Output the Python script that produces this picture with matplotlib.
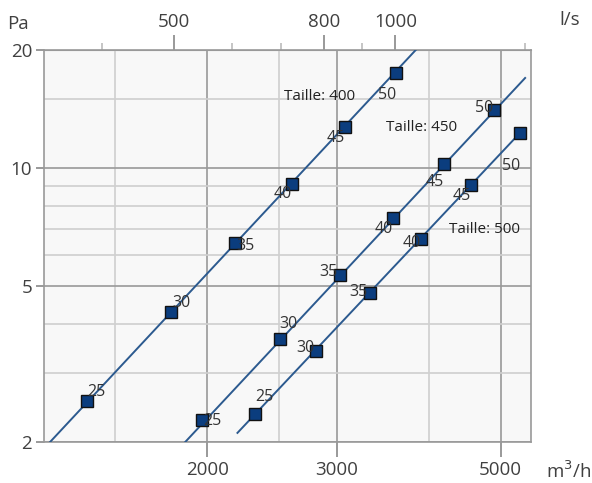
import numpy as np
from matplotlib import pyplot as plt

plt.rcParams['font.family'] = ['Open Sans', 'DejaVu Sans']

# data (m3/h, Pa)
sizes = ["400", "450", "500"]
speeds = ["25", "30", "35", "40", "45", "50"]
q400 = [1374, 1786, 2183, 2602, 3072, 3604]
p400 = [2.55, 4.29, 6.44, 9.1, 12.7, 17.5]
q450 = [1969, 2506, 3024, 3570, 4190, 4898]
p450 = [2.27, 3.66, 5.33, 7.46, 10.24, 14.06]
q500 = [2324, 2805, 3322, 3898, 4556, 5312]
p500 = [2.36, 3.41, 4.80, 6.59, 9.05, 12.28]
# curve end points
cq400 = [1223, 3836]
cp400 = [2.0, 20.0]
cq450 = [1866, 5400]
cp450 = [2.0, 16.97]
cq500 = [2197, 5312]
cp500 = [2.11, 12.28]

xticks = [2000, 3000, 5000]
xminor = [1500, 2500, 4000]
yticks = [2, 5, 10, 20]
yminor = [3, 4, 6, 7, 8, 9, 15]
top_major = [500, 800, 1000]
top_minor = [400, 600, 700, 900, 1500]

# label offsets in pixels
offs = [
    [(9, 9), (10, 9), (10, -3), (-9, -10), (-9, -11), (-9, -22)],
    [(10, -1), (9, 15), (-11, 3), (-9, -11), (-9, -18), (-10, 2)],
    [(9, 17), (-10, 3), (-11, 1), (-9, -4), (-9, -11), (-9, -33)],
]
name_pos = [(2840, 15.2), (3910, 12.65), (4756, 6.95)]

fig = plt.figure(figsize=(5.92, 4.83), dpi=100)
ax = fig.add_axes([44/592, 41/483, 487/592, 392/483])
ax.set_xscale('log')
ax.set_yscale('log')
ax.set_xlim(1200, 5500)
ax.set_ylim(2, 20)
ax.set_facecolor('#f8f8f8')

ax.set_xticks(xticks)
ax.set_xticklabels([str(v) for v in xticks])
ax.set_xticks(xminor, minor=True)
ax.set_xticklabels([], minor=True)
ax.set_yticks(yticks)
ax.set_yticklabels([str(v) for v in yticks])
ax.set_yticks(yminor, minor=True)
ax.set_yticklabels([], minor=True)

ax.grid(True, which='major', color='#999999', linewidth=1.2)
ax.grid(True, which='minor', color='#cfcfcf', linewidth=1.2)
ax.set_axisbelow(True)
ax.tick_params(axis='x', which='major', length=11, width=1.2, color='#888888',
               labelsize=13.5, labelcolor='#404040', pad=3)
ax.tick_params(axis='y', which='major', length=5.5, width=1.2, color='#888888',
               labelsize=13.5, labelcolor='#404040', pad=3)
ax.tick_params(which='minor', length=0)
for s in ax.spines.values():
    s.set_color('#999999')
    s.set_linewidth(1.2)

top = ax.secondary_xaxis('top', functions=(lambda x: x/3.6, lambda x: x*3.6))
top.set_xticks(top_major)
top.set_xticklabels([str(v) for v in top_major])
top.set_xticks(top_minor, minor=True)
top.set_xticklabels([], minor=True)
top.tick_params(which='major', length=11, width=1.2, color='#888888',
                labelsize=13.5, labelcolor='#404040', pad=3)
top.tick_params(which='minor', length=5, width=1.2, color='#bbbbbb')
top.spines['top'].set_color('#999999')

series = [(q400, p400, cq400, cp400), (q450, p450, cq450, cp450), (q500, p500, cq500, cp500)]
for k, (q, p, cq, cp) in enumerate(series):
    ax.plot(cq, cp, color='#2c5a8f', linewidth=1.4, zorder=3)
    ax.plot(q, p, 's', markersize=8, markerfacecolor='#0b3d7e',
            markeredgecolor='#111111', markeredgewidth=1, zorder=4)
    for i in range(len(q)):
        ax.annotate(speeds[i], (q[i], p[i]), xytext=offs[k][i], textcoords='offset pixels',
                    ha='center', va='center', fontsize=11.5, color='#333333', zorder=5)
    ax.text(name_pos[k][0], name_pos[k][1], "Taille: " + sizes[k], ha='center', va='center',
            fontsize=11, color='#222222', zorder=5)

fig.text(18/592, 1 - 24/483, "Pa", ha='center', va='center', fontsize=13.5, color='#404040')
fig.text(570/592, 1 - 20/483, "l/s", ha='center', va='center', fontsize=13.5, color='#404040')
fig.text(569/592, 1 - 471/483, "m$^3$/h", ha='center', va='center', fontsize=13.5, color='#404040')

plt.savefig("out.png", dpi=100)
